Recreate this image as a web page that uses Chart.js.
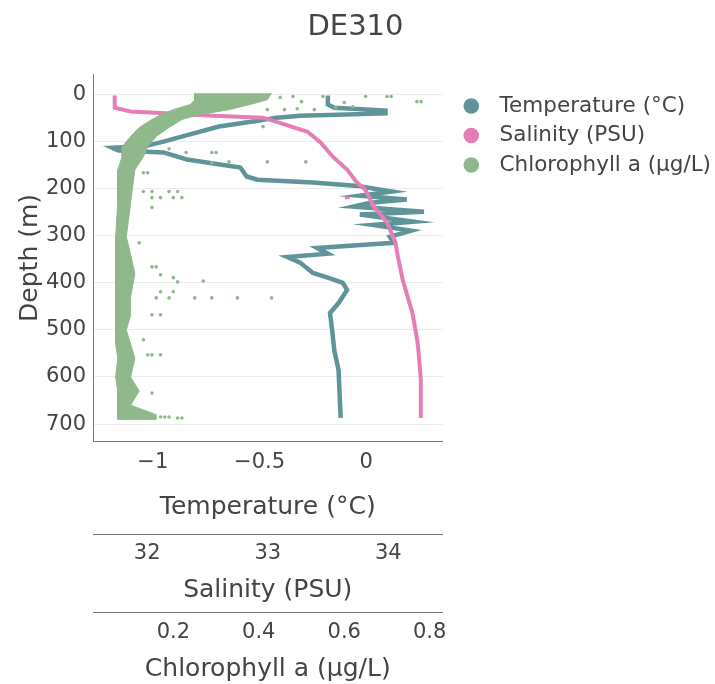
<!DOCTYPE html>
<html>
<head>
<meta charset="utf-8">
<script src="https://cdn.jsdelivr.net/npm/chart.js@4"></script>
<style>
  body { margin: 0; background: #fff; }
</style>
</head>
<body>
<canvas id="myChart" width="715" height="684"></canvas>
<script>
// temperature profile (depth m, °C)
const tempDepth = [2, 21, 28, 34, 40, 45, 49, 55, 68, 85, 100, 109, 113, 119, 123, 138, 155, 174, 181, 187, 194, 198, 206, 215, 223, 230, 238, 249, 255, 270, 277, 289, 302, 315, 326, 338, 345, 357, 379, 389, 400, 415, 443, 464, 500, 543, 585, 687];
const tempValues = [-0.18, -0.18, -0.15, 0.09, 0.09, -0.31, -0.42, -0.50, -0.69, -0.83, -0.95, -1.03, -1.19, -1.16, -0.95, -0.84, -0.59, -0.56, -0.51, -0.25, -0.04, 0.01, 0.12, -0.03, 0.19, 0.02, -0.06, 0.27, -0.03, 0.22, 0.03, 0.21, 0.11, 0.13, -0.23, -0.18, -0.37, -0.31, -0.25, -0.18, -0.11, -0.09, -0.13, -0.17, -0.16, -0.15, -0.13, -0.12];

// salinity profile (PSU)
const salDepth = [2, 28, 36, 40, 45, 49, 60, 79, 102, 132, 160, 187, 202, 238, 272, 315, 345, 394, 464, 521, 543, 606, 687];
const salValues = [31.73, 31.73, 31.86, 32.19, 32.55, 32.96, 33.10, 33.33, 33.44, 33.54, 33.66, 33.74, 33.81, 33.88, 33.99, 34.06, 34.08, 34.12, 34.20, 34.24, 34.25, 34.27, 34.27];
const salOddDepth = [219, 219];
const salOddValues = [33.64, 33.68];

// chlorophyll a: edges of the dense cloud, plus the scattered readings
const chlDepth = [-3, 11, 21, 32, 43, 53, 70, 89, 111, 132, 160, 230, 302, 340, 380, 430, 470, 500, 530, 560, 600, 630, 660, 680, 690];
const chlLeft = [0.25, 0.25, 0.24, 0.20, 0.17, 0.15, 0.12, 0.10, 0.08, 0.08, 0.07, 0.07, 0.065, 0.065, 0.065, 0.065, 0.065, 0.065, 0.065, 0.07, 0.065, 0.07, 0.07, 0.07, 0.07];
const chlRight = [0.43, 0.42, 0.38, 0.33, 0.26, 0.22, 0.19, 0.16, 0.14, 0.13, 0.11, 0.10, 0.09, 0.10, 0.11, 0.10, 0.10, 0.09, 0.10, 0.11, 0.10, 0.12, 0.10, 0.16, 0.16];
const chlOutDepth = [6, 6, 4, 15, 4, 17, 26, 4, 4, 4, 15, 15, 32, 32, 30, 32, 28, 68, 143, 143, 143, 123, 123, 123, 115, 145, 166, 166, 206, 206, 206, 206, 219, 219, 219, 219, 240, 315, 366, 366, 383, 389, 398, 396, 419, 419, 432, 432, 432, 432, 432, 432, 468, 468, 521, 553, 553, 553, 634, 685, 685, 685, 687, 687];
const chlOutValues = [0.41, 0.45, 0.48, 0.50, 0.55, 0.60, 0.62, 0.65, 0.70, 0.71, 0.77, 0.78, 0.42, 0.46, 0.49, 0.53, 0.58, 0.41, 0.51, 0.42, 0.33, 0.29, 0.30, 0.23, 0.19, 0.29, 0.13, 0.14, 0.13, 0.15, 0.19, 0.21, 0.15, 0.17, 0.20, 0.22, 0.15, 0.12, 0.15, 0.16, 0.17, 0.20, 0.21, 0.27, 0.17, 0.20, 0.16, 0.19, 0.25, 0.29, 0.35, 0.43, 0.15, 0.17, 0.13, 0.14, 0.15, 0.17, 0.15, 0.17, 0.18, 0.19, 0.21, 0.22];

const depthTicks = [0, 100, 200, 300, 400, 500, 600, 700];
const tempTicks = [-1, -0.5, 0];
const salTicks = [32, 33, 34];
const chlTicks = [0.2, 0.4, 0.6, 0.8];

const teal = '#5f9598';
const pink = '#e67db6';
const green = '#8fb98c';
const ink = '#444';
const font = 'DejaVu Sans';

const pts = (ys, xs) => ys.map((d, i) => ({ x: xs[i], y: d }));
const keepTicks = list => scale => {
    scale.ticks = list.map(v => ({ value: v }));
};
const minus = v => (v < 0 ? '\u2212' + Math.abs(v) : String(v));

const chlCloud = pts(chlDepth, chlLeft).concat(pts(chlDepth, chlRight).reverse());

// the legend sits a little right of the plot edge
const nudgeLegend = {
    id: 'nudgeLegend',
    afterLayout(chart) {
        chart.legend.left += 10;
        chart.legend.right += 10;
    }
};

const ctx = document.getElementById('myChart');

new Chart(ctx, {
    type: 'scatter',
    data: {
        datasets: [{
            label: 'Temperature (°C)',
            data: pts(tempDepth, tempValues),
            xAxisID: 'xTemp',
            showLine: true,
            borderColor: teal,
            backgroundColor: teal,
            borderWidth: 4.5,
            pointRadius: 0,
            order: 2
        },
        {
            label: 'Salinity (PSU)',
            data: pts(salDepth, salValues),
            xAxisID: 'xSal',
            showLine: true,
            borderColor: pink,
            backgroundColor: pink,
            borderWidth: 4,
            pointRadius: 0,
            order: 1
        },
        {
            label: 'Chlorophyll a (μg/L)',
            data: chlCloud,
            xAxisID: 'xChl',
            showLine: true,
            fill: 'shape',
            borderColor: green,
            backgroundColor: green,
            borderWidth: 1,
            pointRadius: 0,
            order: 0
        },
        {
            label: 'chl-scatter',
            data: pts(chlOutDepth, chlOutValues),
            xAxisID: 'xChl',
            backgroundColor: green,
            borderWidth: 0,
            pointRadius: 1.8,
            order: 0
        },
        {
            label: 'sal-odd',
            data: pts(salOddDepth, salOddValues),
            xAxisID: 'xSal',
            showLine: true,
            borderColor: pink,
            borderWidth: 3,
            pointRadius: 0,
            order: 1
        }]
    },
    options: {
        responsive: false,
        animation: false,
        devicePixelRatio: 1,
        layout: { padding: { left: 0, right: 4, top: 0, bottom: 0 } },
        plugins: {
            tooltip: { enabled: false },
            title: {
                display: true,
                text: 'DE310',
                color: ink,
                font: { family: font, size: 29, weight: 'normal' },
                padding: { top: 10, bottom: 30 }
            },
            legend: {
                position: 'right',
                align: 'start',
                maxWidth: 400,
                title: { display: true, text: ' ', font: { size: 1 }, padding: { top: 86, bottom: 0 } },
                labels: {
                    usePointStyle: true,
                    boxWidth: 22,
                    boxHeight: 11,
                    padding: 8,
                    color: ink,
                    font: { family: font, size: 21.5 },
                    filter: item => item.datasetIndex < 3,
                    sort: (a, b) => a.datasetIndex - b.datasetIndex,
                    generateLabels: chart => Chart.defaults.plugins.legend.labels.generateLabels(chart)
                        .map(l => ({ ...l, text: ' ' + l.text, lineWidth: 0, strokeStyle: 'rgba(0,0,0,0)' }))
                }
            }
        },
        scales: {
            y: {
                reverse: true,
                min: -42,
                max: 736,
                afterBuildTicks: keepTicks(depthTicks),
                afterFit: s => { s.width = 93; },
                ticks: { color: ink, padding: 7, font: { family: font, size: 21 } },
                grid: { color: '#ececec', drawTicks: false },
                border: { display: true, color: '#777', width: 1 },
                title: {
                    display: true,
                    text: 'Depth (m)',
                    color: ink,
                    font: { family: font, size: 25 },
                    padding: { top: 15, bottom: 0 }
                }
            },
            xTemp: {
                type: 'linear',
                position: 'bottom',
                weight: 0,
                min: -1.28,
                max: 0.357,
                afterBuildTicks: keepTicks(tempTicks),
                afterFit: s => { s.height = 93; },
                ticks: { color: ink, padding: 9, font: { family: font, size: 21 }, callback: v => minus(v) },
                grid: { display: false, drawTicks: false },
                border: { display: true, color: '#777', width: 1 },
                title: {
                    display: true,
                    text: 'Temperature (°C)',
                    color: ink,
                    font: { family: font, size: 25 },
                    padding: { top: 0, bottom: 12 }
                }
            },
            xSal: {
                type: 'linear',
                position: 'bottom',
                weight: 1,
                min: 31.55,
                max: 34.45,
                afterBuildTicks: keepTicks(salTicks),
                afterFit: s => { s.height = 78; },
                ticks: { color: ink, padding: 7, font: { family: font, size: 21 } },
                grid: { display: false, drawTicks: false },
                border: { display: true, color: '#777', width: 1 },
                title: {
                    display: true,
                    text: 'Salinity (PSU)',
                    color: ink,
                    font: { family: font, size: 25 },
                    padding: { top: 0, bottom: 7 }
                }
            },
            xChl: {
                type: 'linear',
                position: 'bottom',
                weight: 2,
                min: 0.012,
                max: 0.83,
                afterBuildTicks: keepTicks(chlTicks),
                afterFit: s => { s.height = 72; },
                ticks: { color: ink, padding: 8, font: { family: font, size: 21 }, callback: v => v.toFixed(1) },
                grid: { display: false, drawTicks: false },
                border: { display: true, color: '#777', width: 1 },
                title: {
                    display: true,
                    text: 'Chlorophyll a (μg/L)',
                    color: ink,
                    font: { family: font, size: 25 },
                    padding: { top: 0, bottom: 0 }
                }
            }
        }
    },
    plugins: [nudgeLegend]
});
</script>
</body>
</html>
